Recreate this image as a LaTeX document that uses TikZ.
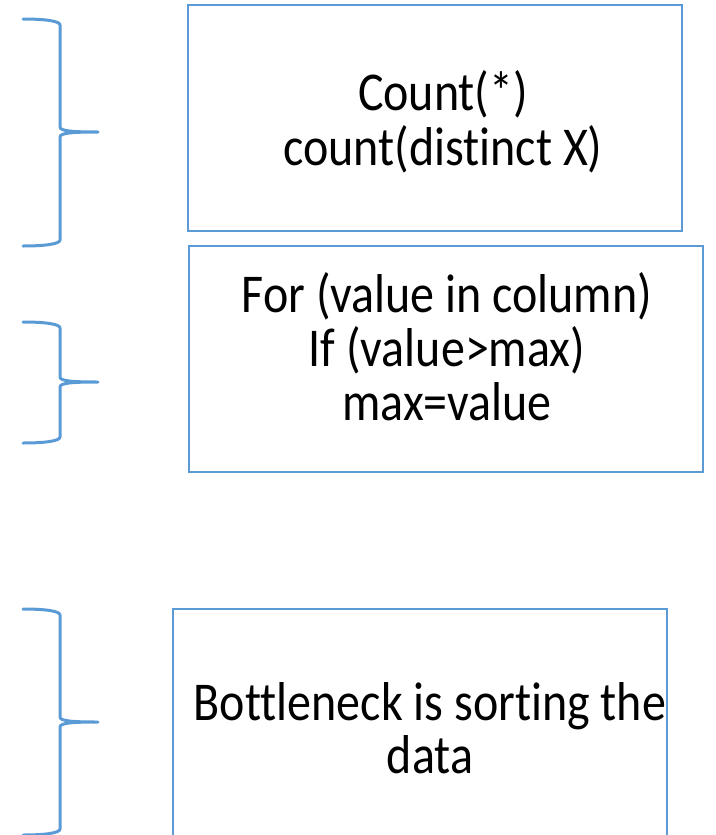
\documentclass[tikz,border=0pt]{standalone}
\usepackage{fontspec}
\setmainfont{Carlito}[Ligatures={NoCommon,NoRequired,NoContextual}]
\definecolor{officeblue}{HTML}{5B9BD5}
\tikzset{
  box/.style={draw=officeblue, line width=1.6pt, fill=none, inner sep=0pt},
  boxline/.style={anchor=base, font=\fontsize{48}{48}\selectfont, text=black, inner sep=0pt},
  bracestroke/.style={draw=officeblue, line width=3pt, line cap=round, line join=round}
}
% text set slightly taller than wide
\newcommand\tallset[1]{\scalebox{1}[1.14]{#1}}
% right-pointing curly brace: #1 top, #2 tip, #3 bottom (y values)
\newcommand\curlybrace[3]{%
  \draw[bracestroke] (23,#1) .. controls (45,#1) and (60,{#1+2}) .. (60,{#1+6})
    -- (60,{#2-5}) .. controls (60,{#2-1}) and (72,#2) .. (98,#2)
    .. controls (72,#2) and (60,{#2+1}) .. (60,{#2+5})
    -- (60,{#3-6}) .. controls (60,{#3-2}) and (45,#3) .. (23,#3);}
\begin{document}
\begin{tikzpicture}[x=1pt, y=-1pt]
  \useasboundingbox (0,0) rectangle (715,835);
  \clip (0,0) rectangle (715,835);

  % braces on the left
  \curlybrace{19}{132}{246}
  \curlybrace{322}{382}{443}
  \curlybrace{609}{722}{835}

  % boxes
  \node[box, minimum width=494pt, minimum height=226pt] (countbox) at (435,118) {};
  \node[box, minimum width=514pt, minimum height=226pt] (maxbox) at (446,359) {};
  \node[box, minimum width=494pt, minimum height=236pt] (sortbox) at (420,727) {};

  % box texts, one node per line, placed on their baselines
  \node[boxline] (count1) at (443,110) {\tallset{Count(*)}};
  \node[boxline] (count2) at (443,165) {\tallset{count(distinct X)}};
  \node[boxline] (max1) at (447,312) {\tallset{For (value in column)}};
  \node[boxline] (max2) at (447,366) {\tallset{If (value>max)}};
  \node[boxline] (max3) at (447,420) {\tallset{max=value}};
  \node[boxline] (sort1) at (430,720) {\tallset{Bottleneck is sorting the}};
  \node[boxline] (sort2) at (430,773) {\tallset{data}};
\end{tikzpicture}
\end{document}
